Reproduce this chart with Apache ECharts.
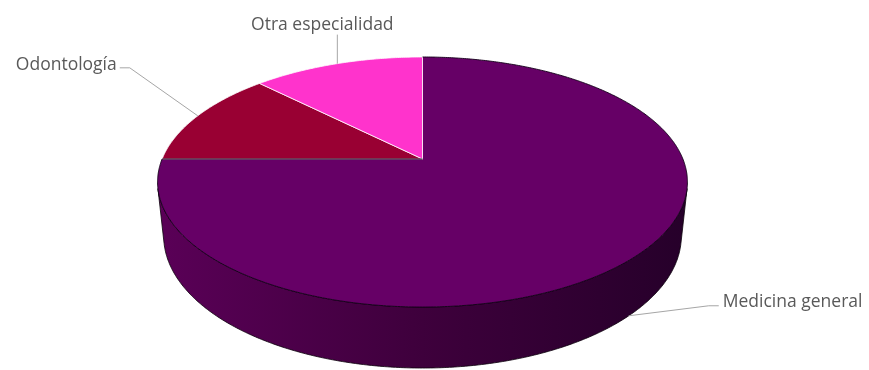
<!DOCTYPE html>
<html>
<head>
<meta charset="utf-8">
<script src="https://cdn.jsdelivr.net/npm/echarts@6/dist/echarts.min.js"></script>
<style>
  html, body { margin: 0; padding: 0; background: #ffffff; }
  #chart { width: 869px; height: 370px; }
</style>
</head>
<body>
<div id="chart"></div>
<script>
// Slices, clockwise from twelve o'clock
const categories = ['Medicina general', 'Odontología', 'Otra especialidad'];
const values = [75, 12.5, 12.5];

// Styling of each slice
const sliceColors = ['#660066', '#990033', '#ff33cc'];
const sliceEdges = ['#14001a', '#ffffff', '#ffffff'];
const wallStops = ['#5a0057', '#3e003c', '#26002a'];

// Leader lines: elbow offset from the rim anchor, then a short horizontal tail
const leaders = [
  { elbow: [80, -10], tail: 10, text: { dx: 4, dy: -4, align: 'left' } },
  { elbow: [-68, -48], tail: -10, text: { dx: -3, dy: -3, align: 'right' } },
  { elbow: [0, -29], tail: 0, text: { dx: -15, dy: -10, align: 'center' } }
];

// Perspective camera looking down on a unit disc of the given thickness
const cam = { cx: 422.5, cy: 159, f: 1253.8, dist: 4.815, sin: 0.4639, cos: 0.8859, depth: 0.2364 };

function project(t, y) {
  const u = Math.cos(t), w = Math.sin(t);
  const z = cam.dist - y * cam.sin - w * cam.cos;
  return [cam.cx + cam.f * u / z, cam.cy + cam.f * (w * cam.sin - y * cam.cos) / z];
}

function arc(a0, a1, y) {
  const pts = [];
  const n = Math.max(2, Math.ceil(Math.abs(a1 - a0) / (Math.PI / 360)));
  for (let i = 0; i <= n; i++) pts.push(project(a0 + (a1 - a0) * i / n, y));
  return pts;
}

const total = values.reduce((s, v) => s + v, 0);
const starts = [];
values.reduce((acc, v, i) => { starts[i] = acc; return acc + v; }, 0);

// The outer wall faces the viewer where sin(t) exceeds this bound
const wallBound = Math.asin(1 / (cam.dist * cam.cos));
const wallFrom = wallBound, wallTo = Math.PI - wallBound;

function renderItem(params, api) {
  const i = params.dataIndex;
  const v = api.value(0);
  const a0 = -Math.PI / 2 + 2 * Math.PI * starts[i] / total;
  const a1 = a0 + 2 * Math.PI * v / total;
  const center = [cam.cx, cam.cy];
  const children = [];

  // top face
  const rim = arc(a0, a1, 0);
  const dark = i === 0;
  children.push({
    type: 'polygon', z2: dark ? 5 : 6,
    shape: { points: [center].concat(rim) },
    style: { fill: sliceColors[i], stroke: dark ? null : sliceEdges[i], lineWidth: 0.8, lineJoin: 'round' }
  });
  if (dark) {
    // rim and closing radius outlined above the neighbouring slices
    children.push({
      type: 'polyline', z2: 7,
      shape: { points: rim.concat([center]) },
      style: { stroke: sliceEdges[i], lineWidth: 0.9, fill: null, lineJoin: 'round' }
    });
  }

  // outer wall where it faces the viewer
  const s0 = Math.max(a0, wallFrom), s1 = Math.min(a1, wallTo);
  if (s1 > s0) {
    const wall = arc(s0, s1, 0).concat(arc(s1, s0, -cam.depth));
    children.push({
      type: 'polygon', z2: 2,
      shape: { points: wall },
      style: {
        fill: new echarts.graphic.LinearGradient(0, 0, 1, 0, [
          { offset: 0, color: wallStops[0] },
          { offset: 0.5, color: wallStops[1] },
          { offset: 1, color: wallStops[2] }
        ]),
        stroke: '#0a000a', lineWidth: 0.8, lineJoin: 'round'
      }
    });
  }

  // leader line and label
  const mid = (a0 + a1) / 2;
  const onWall = mid > wallFrom && mid < wallTo;
  const anchor = project(mid, onWall ? -cam.depth : 0);
  const L = leaders[i];
  const elbow = [anchor[0] + L.elbow[0], anchor[1] + L.elbow[1]];
  const end = [elbow[0] + L.tail, elbow[1]];
  children.push({
    type: 'polyline', z2: 8,
    shape: { points: [anchor, elbow, end] },
    style: { stroke: '#a6a6a6', lineWidth: 1, fill: null }
  });
  children.push({
    type: 'text', z2: 9,
    style: {
      text: categories[i],
      x: end[0] + L.text.dx, y: end[1] + L.text.dy,
      align: L.text.align, verticalAlign: 'middle',
      fill: '#595959', fontSize: 17.5, fontFamily: 'Open Sans'
    }
  });

  return { type: 'group', children };
}

const chart = echarts.init(document.getElementById('chart'), null, { renderer: 'canvas' });
chart.setOption({
  animation: false,
  backgroundColor: '#ffffff',
  series: [{
    type: 'custom',
    coordinateSystem: 'none',
    renderItem,
    data: values.map((v, i) => ({ name: categories[i], value: v }))
  }]
});
</script>
</body>
</html>
